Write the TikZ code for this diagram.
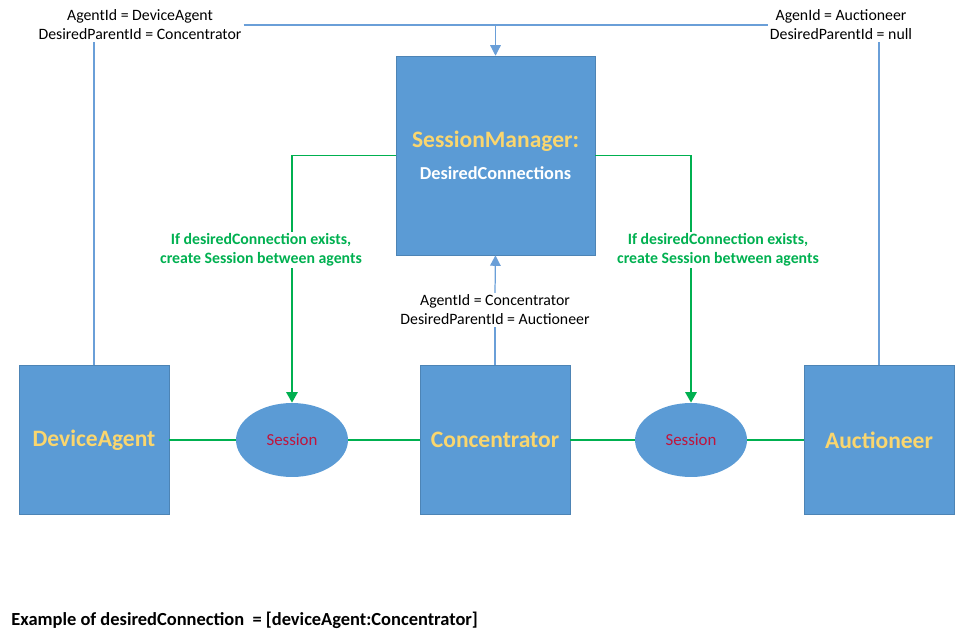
\documentclass[tikz,border=0pt]{standalone}
\usepackage{fontspec}
\setmainfont{Carlito}
\usepackage{tikz}
\usetikzlibrary{positioning, shapes.geometric, arrows.meta}

\definecolor{boxblue}{HTML}{5B9BD5}
\definecolor{lineblue}{HTML}{6A9FD8}
\definecolor{namegold}{HTML}{FAD66E}
\definecolor{linkgreen}{HTML}{00B050}
\definecolor{sessred}{HTML}{C0143C}

\tikzset{
  agentbox/.style={fill=boxblue, draw=boxblue!85!black, line width=0.3pt, minimum width=3cm, minimum height=2.98cm, font=\fontsize{13.4}{15}\selectfont\bfseries, text=namegold},
  sessionoval/.style={ellipse, fill=boxblue, minimum width=2.24cm, minimum height=1.48cm, font=\fontsize{9.6}{11}\selectfont, text=sessred},
  idlabel/.style={align=center, font=\fontsize{9}{10.8}\selectfont, inner sep=1pt},
  rulelabel/.style={align=center, font=\fontsize{9}{10.8}\selectfont\bfseries, text=linkgreen, inner sep=1pt},
  bluelink/.style={draw=lineblue, line width=0.7pt},
  greenlink/.style={draw=linkgreen, line width=1pt}
}

\begin{document}
\begin{tikzpicture}[x=0.02cm,y=-0.02cm]

\useasboundingbox (0,0) rectangle (966,641);

\node (sm) at (495.5,155.5) [agentbox, minimum width=3.98cm, minimum height=3.98cm, align=center] {SessionManager:\\[3pt] {\color{white}\fontsize{10.4}{12}\selectfont DesiredConnections}};

\node (da) at (94,440) [agentbox] {DeviceAgent};
\node (con) at (495,440) [agentbox] {Concentrator};
\node (auc) at (879,440) [agentbox] {Auctioneer};

\node (s1) at (292,440) [sessionoval] {Session};
\node (s2) at (691,440) [sessionoval] {Session};

\draw [greenlink] (da.east) -- (s1.west);
\draw [greenlink] (s1.east) -- (con.west);
\draw [greenlink] (con.east) -- (s2.west);
\draw [greenlink] (s2.east) -- (auc.west);

\node (rule1) at (261,250) [rulelabel] {If desiredConnection exists,\\create Session between agents};
\node (rule2) at (718,250) [rulelabel] {If desiredConnection exists,\\create Session between agents};

\draw [greenlink] (sm.west) -| (s1.north |- rule1.north);
\draw [greenlink, -{Triangle[width=6.5pt,length=6pt]}] (s1.north |- rule1.south) -- (s1.north);
\draw [greenlink] (sm.east) -| (s2.north |- rule2.north);
\draw [greenlink, -{Triangle[width=6.5pt,length=6pt]}] (s2.north |- rule2.south) -- (s2.north);

\node (dalabel) at (140,25) [idlabel] {AgentId = DeviceAgent\\DesiredParentId = Concentrator};
\node (auclabel) at (841,25) [idlabel] {AgenId = Auctioneer\\DesiredParentId = null};
\node (conlabel) at (495,310) [idlabel] {AgentId = Concentrator\\DesiredParentId = Auctioneer};

\coordinate (top) at (dalabel.east -| sm.north);

\draw [bluelink] (da.north) -- (da.north |- dalabel.south);
\draw [bluelink] (auc.north) -- (auc.north |- auclabel.south);
\draw [bluelink] (dalabel.east) -- (auclabel.west |- dalabel.east);
\draw [bluelink, -{Triangle[width=6pt,length=6pt]}] (top) -- (sm.north);
\draw [bluelink] (con.north) -- (conlabel.south);
\draw [bluelink, -{Triangle[width=6pt,length=6pt]}] (conlabel.north) -- (sm.south);

\node (example) at (11,620) [anchor=west, inner sep=0pt, font=\fontsize{10.5}{12}\selectfont\bfseries] {Example of desiredConnection\ \ = [deviceAgent:Concentrator]};

\end{tikzpicture}
\end{document}
